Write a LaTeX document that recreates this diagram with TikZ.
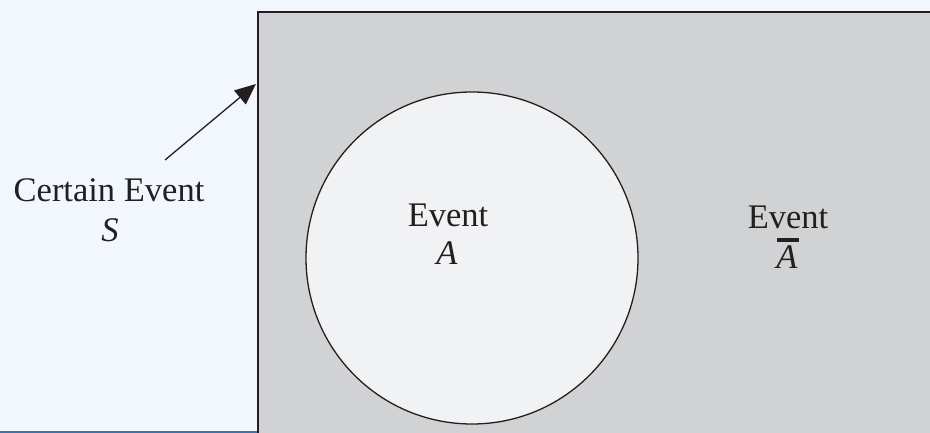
\documentclass[tikz,border=0pt]{standalone}
\usepackage{fontspec}
\setmainfont{Liberation Serif}
\usetikzlibrary{arrows.meta}
\definecolor{bgblue}{HTML}{F2F7FD}
\definecolor{boxgray}{HTML}{D1D2D4}
\definecolor{circfill}{HTML}{F1F2F4}
\definecolor{inkdark}{HTML}{231F20}
\definecolor{lineblue}{HTML}{3D74B0}
\tikzset{
  lbl/.style={font=\fontsize{34.5}{39}\selectfont, text=inkdark, align=center, inner sep=0pt},
}
\begin{document}
\begin{tikzpicture}[x=1pt,y=-1pt]
\useasboundingbox (0,0) rectangle (930,433);
\fill[bgblue] (0,0) rectangle (930,433);
\draw[lineblue, line width=2.2pt] (0,432) -- (257,432);
\node[draw=inkdark, fill=boxgray, line width=2pt, minimum width=676pt, minimum height=426pt, anchor=north west, inner sep=0pt] (S) at (257,11) {};
\node[circle, draw=inkdark, fill=circfill, line width=1.3pt, minimum size=332pt, inner sep=0pt] (A) at (472,258) {};
\node[lbl, anchor=base] (ce) at (109,202) {Certain Event};
\node[lbl, anchor=base] (cs) at (110,241) {\itshape S};
\node[lbl, anchor=base] (ea) at (448,227) {Event};
\node[lbl, anchor=base] (aa) at (447,265) {\itshape A};
\node[lbl, anchor=base] (eb) at (788,229) {Event};
\node[lbl, anchor=base] (ab) at (787,269) {\itshape A};
\draw[inkdark, line width=3.6pt] (777,240) -- (799,240);
\coordinate (tail) at (165,160);
\coordinate (tip) at (256,84);
\draw[inkdark, line width=1.3pt, -{Triangle[length=21pt,width=18pt]}] (tail) -- (tip);
\end{tikzpicture}
\end{document}
